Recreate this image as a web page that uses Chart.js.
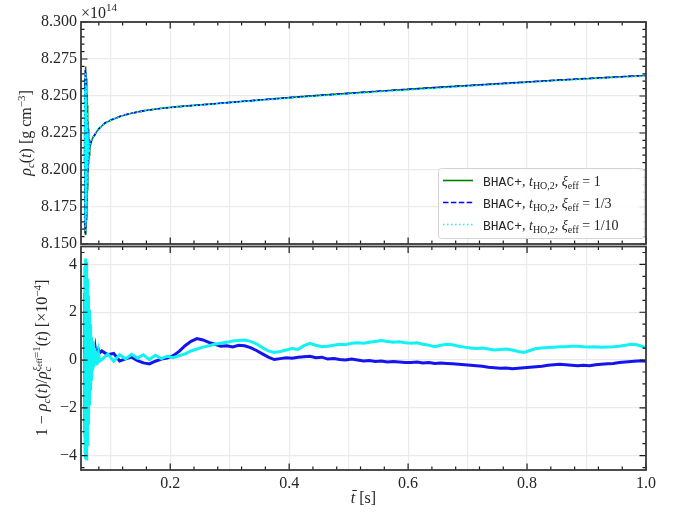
<!DOCTYPE html>
<html><head><meta charset="utf-8">
<script src="https://cdn.jsdelivr.net/npm/chart.js@4.4.0/dist/chart.umd.min.js"></script>
<style>
html,body{margin:0;padding:0;background:#fff;}
#wrap{position:relative;width:680px;height:512px;overflow:hidden;}
canvas{position:absolute;left:0;}
#c1{top:0;}
#c2{top:245px;}
</style></head><body>
<div id="wrap">
<canvas id="c1" width="680" height="262"></canvas>
<canvas id="c2" width="680" height="267"></canvas>
</div>
<script>
// ---------------- DATA ----------------
const tTop = [
0.0560,0.0564,0.0568,0.0572,0.0576,0.0580,0.0584,0.0588,0.0592,0.0596,
0.0600,0.0604,0.0608,0.0612,0.0616,0.0620,0.0626,0.0632,0.0638,0.0646,
0.0656,0.0670,0.0690,0.0710,0.0732,0.0760,0.0800,0.0840,0.0900,0.1010,
0.1180,0.1345,0.1570,0.1850,0.2125,0.2400,0.2680,0.3070,0.3500,0.4000,
0.4500,0.5000,0.5500,0.6000,0.6500,0.7000,0.7500,0.8000,0.8500,0.9000,
0.9500,1.0000];
const rhoXi1 = [
8.210,8.262,8.158,8.270,8.156,8.268,8.160,8.262,8.166,8.254,
8.176,8.244,8.186,8.236,8.196,8.228,8.204,8.222,8.210,8.218,
8.2165,8.2190,8.2210,8.2225,8.2237,8.2256,8.2278,8.2294,8.2316,8.2338,
8.2365,8.2383,8.2401,8.2417,8.2428,8.2437,8.2446,8.2459,8.2473,8.2489,
8.2504,8.2518,8.2532,8.2545,8.2558,8.2570,8.2582,8.2594,8.2606,8.2617,
8.2628,8.2639];
const rhoXi3 = [
8.205,8.258,8.162,8.268,8.157,8.266,8.161,8.259,8.168,8.251,
8.179,8.241,8.189,8.233,8.199,8.226,8.206,8.221,8.211,8.2175,
8.2168,8.2192,8.2212,8.2226,8.2238,8.2257,8.2279,8.2295,8.2317,8.2339,
8.2366,8.2383,8.2401,8.2416,8.2427,8.2436,8.2445,8.2458,8.2473,8.2489,
8.2504,8.2518,8.2532,8.2545,8.2558,8.2570,8.2583,8.2595,8.2607,8.2618,
8.2628,8.2639];
const rhoXi10 = [
8.200,8.255,8.164,8.266,8.158,8.265,8.163,8.257,8.170,8.249,
8.181,8.239,8.191,8.231,8.201,8.225,8.207,8.220,8.212,8.2172,
8.2170,8.2193,8.2213,8.2227,8.2238,8.2256,8.2278,8.2294,8.2316,8.2338,
8.2364,8.2382,8.2400,8.2416,8.2427,8.2435,8.2444,8.2456,8.2470,8.2486,
8.2500,8.2514,8.2527,8.2540,8.2553,8.2566,8.2578,8.2591,8.2603,8.2613,
8.2624,8.2635];

const tDiff = [
0.0560,0.0564,0.0568,0.0572,0.0576,0.0580,0.0584,0.0588,0.0592,0.0596,
0.0600,0.0604,0.0608,0.0612,0.0616,0.0620,0.0624,0.0628,0.0632,0.0636,
0.0640,0.0644,0.0648,0.0652,0.0656,0.0660,0.0664,0.0668,0.0672,0.0676,
0.0680,0.0688,0.0696,0.0704,0.0712,0.0720,0.0732,0.0744,0.0756,0.0768,
0.0780,0.0795,0.0810,
0.085,0.095,0.105,0.115,0.125,0.135,0.145,0.155,0.165,0.175,
0.185,0.195,0.205,0.215,0.225,0.235,0.245,0.255,0.265,0.275,
0.285,0.295,0.305,0.315,0.325,0.335,0.345,0.355,0.365,0.375,
0.385,0.395,0.405,0.415,0.425,0.435,0.445,0.455,0.465,0.475,
0.485,0.495,0.505,0.515,0.525,0.535,0.545,0.555,0.565,0.575,
0.585,0.595,0.605,0.615,0.625,0.635,0.645,0.655,0.665,0.675,
0.685,0.695,0.705,0.715,0.725,0.735,0.745,0.755,0.765,0.775,
0.785,0.795,0.805,0.815,0.825,0.835,0.845,0.855,0.865,0.875,
0.885,0.895,0.905,0.915,0.925,0.935,0.945,0.955,0.965,0.975,
0.985,0.995,1.000];
const diffXi3 = [
0.3,2.8,-3.0,3.2,-3.4,3.0,-3.2,2.8,-2.9,2.5,
-2.6,2.2,-2.2,1.9,-1.9,1.6,-1.6,1.4,-1.3,1.2,
-1.0,1.0,-0.8,0.9,-0.6,0.8,-0.4,0.7,-0.3,0.6,
-0.2,0.55,-0.1,0.5,0.0,0.45,0.1,0.42,0.2,0.4,
0.25,0.42,0.3,
0.38,0.22,0.28,-0.04,0.05,0.12,-0.02,-0.12,-0.16,-0.05,
0.04,0.08,0.18,0.36,0.60,0.78,0.90,0.84,0.74,0.66,
0.58,0.60,0.55,0.62,0.60,0.52,0.40,0.26,0.12,0.02,
0.06,0.10,0.08,0.12,0.14,0.16,0.10,0.12,0.04,0.06,
0.02,0.00,0.04,0.00,-0.04,-0.02,-0.06,-0.04,-0.08,-0.06,
-0.08,-0.10,-0.10,-0.08,-0.12,-0.10,-0.14,-0.12,-0.14,-0.16,
-0.18,-0.20,-0.22,-0.24,-0.26,-0.30,-0.32,-0.34,-0.33,-0.36,
-0.34,-0.32,-0.30,-0.28,-0.26,-0.22,-0.20,-0.18,-0.20,-0.22,
-0.24,-0.22,-0.24,-0.20,-0.18,-0.16,-0.14,-0.10,-0.08,-0.06,
-0.04,-0.04,-0.05];
const diffXi10 = [
0.5,3.9,-3.8,4.25,-4.0,4.2,-4.15,4.1,-4.2,3.8,
-4.0,3.4,-3.6,3.0,-3.1,2.7,-2.7,2.4,-2.3,2.1,
-1.9,1.8,-1.6,1.5,-1.3,1.3,-1.0,1.1,-0.8,0.95,
-0.6,0.8,-0.45,0.65,-0.3,0.5,-0.2,0.4,-0.15,0.3,
-0.1,0.25,-0.05,
0.02,0.25,-0.05,0.22,0.05,0.24,0.08,0.22,0.02,0.20,
0.06,0.16,0.10,0.18,0.26,0.38,0.46,0.54,0.60,0.66,
0.70,0.74,0.80,0.82,0.84,0.78,0.68,0.52,0.38,0.32,
0.36,0.42,0.48,0.44,0.60,0.70,0.62,0.56,0.58,0.62,
0.66,0.64,0.70,0.72,0.70,0.74,0.78,0.82,0.78,0.74,
0.76,0.72,0.70,0.72,0.66,0.62,0.56,0.62,0.66,0.64,
0.58,0.54,0.50,0.48,0.50,0.46,0.42,0.44,0.46,0.42,
0.36,0.32,0.40,0.48,0.50,0.52,0.54,0.56,0.56,0.58,
0.58,0.56,0.55,0.56,0.54,0.55,0.56,0.58,0.62,0.66,
0.64,0.56,0.50];

const xGridTicks = [0.1,0.2,0.3,0.4,0.5,0.6,0.7,0.8,0.9,1.0];
const xLabelTicks = [0.2,0.4,0.6,0.8,1.0];
const xMinorTicks = [0.08,0.12,0.16,0.24,0.28,0.32,0.36,0.44,0.48,0.52,0.56,0.64,0.68,0.72,0.76,0.84,0.88,0.92,0.96];
const rhoTicks = [8.150,8.175,8.200,8.225,8.250,8.275,8.300];
const diffTicks = [-4,-2,0,2,4];
const legendValues = ['1','1/3','1/10'];

// ---------------- HELPERS ----------------
const SERIF = '"Liberation Serif"';
const F = (size, style) => (style ? style + ' ' : '') + size + 'px ' + SERIF;
const TXT = '#262626';

function segWidth(ctx, s) {
  if (s.pair) return Math.max(listWidth(ctx, s.pair[0]), listWidth(ctx, s.pair[1]));
  ctx.font = s.f; return ctx.measureText(s.t).width;
}
function listWidth(ctx, segs) { let w = 0; for (const s of segs) w += segWidth(ctx, s); return w; }
function drawList(ctx, segs, x0) {
  let cx = x0;
  for (const s of segs) {
    if (s.pair) { drawList(ctx, s.pair[0], cx); drawList(ctx, s.pair[1], cx); cx += segWidth(ctx, s); continue; }
    ctx.font = s.f; ctx.fillStyle = TXT;
    ctx.fillText(s.t, cx, s.dy || 0);
    const w = ctx.measureText(s.t).width;
    if (s.bar) { ctx.fillRect(cx + 1.5, -13, w, 1); }
    cx += w;
  }
}
function drawRich(ctx, segs, x, y, rot, align) {
  ctx.save(); ctx.translate(x, y); if (rot) ctx.rotate(rot);
  ctx.textBaseline = 'alphabetic'; ctx.textAlign = 'left';
  const w = listWidth(ctx, segs);
  drawList(ctx, segs, align === 'left' ? 0 : -w / 2);
  ctx.restore();
}

function frameTicks(chart, cfg) {
  const ctx = chart.ctx, a = chart.chartArea, xs = chart.scales.x, ys = chart.scales.y;
  ctx.save();
  ctx.strokeStyle = '#1a1a1a'; ctx.lineWidth = 1.2;
  ctx.beginPath();
  const xt = (v, len) => { const p = xs.getPixelForValue(v);
    ctx.moveTo(p, a.bottom); ctx.lineTo(p, a.bottom - len);
    ctx.moveTo(p, a.top); ctx.lineTo(p, a.top + len); };
  const yt = (v, len) => { const p = ys.getPixelForValue(v);
    ctx.moveTo(a.left, p); ctx.lineTo(a.left + len, p);
    ctx.moveTo(a.right, p); ctx.lineTo(a.right - len, p); };
  xLabelTicks.forEach(v => xt(v, 6.5));
  xMinorTicks.forEach(v => xt(v, 3.5));
  cfg.yTicks.forEach(v => yt(v, 6.5));
  const yMinor = [];
  for (let v = cfg.yMinorStart; v <= cfg.ymax + 1e-9; v += cfg.yMinorStep) yMinor.push(v);
  yMinor.forEach(v => { if (v >= cfg.ymin - 1e-9) yt(v, 3.5); });
  ctx.stroke();
  ctx.strokeStyle = '#3a3a3a'; ctx.lineWidth = 1.8;
  ctx.strokeRect(a.left, a.top, a.right - a.left, a.bottom - a.top);
  ctx.restore();
}

function makeOptions(cfg) {
  return {
    responsive: false, animation: false, devicePixelRatio: 1,
    layout: { padding: cfg.padding },
    plugins: { legend: { display: false }, tooltip: { enabled: false } },
    elements: { point: { radius: 0 }, line: { tension: 0 } },
    scales: {
      x: {
        type: 'linear', min: 0.05, max: 1.0,
        afterBuildTicks: s => { s.ticks = xGridTicks.map(v => ({ value: v })); },
        afterFit: s => { s.height = cfg.xHeight; s.paddingLeft = 0; s.paddingRight = 0; },
        grid: { color: '#ebebeb', lineWidth: 1.2, drawTicks: false },
        border: { display: false },
        ticks: { display: cfg.xLabels, padding: 4, autoSkip: false, maxRotation: 0,
          font: { family: 'Liberation Serif', size: 16 }, color: TXT,
          callback: v => xLabelTicks.some(l => Math.abs(l - v) < 1e-9) ? v.toFixed(1) : '' }
      },
      y: {
        type: 'linear', min: cfg.ymin, max: cfg.ymax,
        afterBuildTicks: s => { s.ticks = cfg.yTicks.map(v => ({ value: v })); },
        afterFit: s => { s.width = 81; s.paddingTop = 0; s.paddingBottom = 0; },
        grid: { color: '#ebebeb', lineWidth: 1.2, drawTicks: false },
        border: { display: false },
        ticks: { padding: 4, autoSkip: false,
          font: { family: 'Liberation Serif', size: 16 }, color: TXT,
          callback: cfg.yFmt }
      }
    }
  };
}

// ---------------- TOP CHART ----------------
const topCfg = { padding: { top: 22, right: 34, left: 0, bottom: 0 }, xHeight: 18, xLabels: false,
  ymin: 8.150, ymax: 8.300, yTicks: rhoTicks, yMinorStart: 8.150, yMinorStep: 0.005,
  yFmt: v => v.toFixed(3) };
const topDatasets = [
  { label: 'xi1', data: tTop.map((t, i) => ({ x: t, y: rhoXi1[i] })), borderColor: '#008000', borderWidth: 1.6, order: 3 },
  { label: 'xi3', data: tTop.map((t, i) => ({ x: t, y: rhoXi3[i] })), borderColor: '#0000ff', borderWidth: 1.6, borderDash: [5.5, 2.4], order: 2 },
  { label: 'xi10', data: tTop.map((t, i) => ({ x: t, y: rhoXi10[i] })), borderColor: '#00ffff', borderWidth: 1.6, borderDash: [1.5, 2.5], order: 1 }
];
const topPlugin = { id: 'topDecor', afterDraw(chart) {
  frameTicks(chart, topCfg);
  const ctx = chart.ctx;
  drawRich(ctx, [{ t: '×10', f: F(16) }, { t: '14', f: F(11), dy: -7 }], 81, 18, 0, 'left');
  drawRich(ctx, [{ t: 'ρ', f: F(16, 'italic') }, { t: 'c', f: F(11, 'italic'), dy: 3 }, { t: '(', f: F(16) },
    { t: 't', f: F(16, 'italic') }, { t: ') [g cm', f: F(16) }, { t: '−3', f: F(11), dy: -6 }, { t: ']', f: F(16) }],
    31, 133, -Math.PI / 2);
  ctx.save();
  ctx.beginPath(); ctx.roundRect(438.5, 168.5, 206, 70, 3);
  ctx.fillStyle = 'rgba(255,255,255,0.85)'; ctx.fill();
  ctx.strokeStyle = '#d4d4d4'; ctx.lineWidth = 1; ctx.stroke();
  const rows = [180.5, 202.5, 224.5];
  chart.data.datasets.forEach((ds, i) => {
    const y = rows[i];
    ctx.beginPath(); ctx.setLineDash(ds.borderDash || []);
    ctx.strokeStyle = ds.borderColor; ctx.lineWidth = 1.6;
    ctx.moveTo(443, y); ctx.lineTo(473, y); ctx.stroke();
    ctx.setLineDash([]);
    drawRich(ctx, [{ t: 'BHAC+', f: '13px "Liberation Mono"' }, { t: ', ', f: F(14) }, { t: 't', f: F(14, 'italic') },
      { t: 'HO,2', f: F(10), dy: 3 }, { t: ', ', f: F(14) }, { t: 'ξ', f: F(14, 'italic') }, { t: 'eff', f: F(10), dy: 3 },
      { t: ' = ' + legendValues[i], f: F(14) }], 483, y + 5, 0, 'left');
  });
  ctx.restore();
} };
new Chart(document.getElementById('c1'), { type: 'line', data: { datasets: topDatasets },
  options: makeOptions(topCfg), plugins: [topPlugin] });

// ---------------- BOTTOM CHART ----------------
const botCfg = { padding: { top: 1.5, right: 34, left: 0, bottom: 0 }, xHeight: 42, xLabels: true,
  ymin: -4.6, ymax: 4.75, yTicks: diffTicks, yMinorStart: -4.5, yMinorStep: 0.5,
  yFmt: v => v < 0 ? '\u2212' + Math.abs(v) : String(v) };
const botDatasets = [
  { label: 'xi3', data: tDiff.map((t, i) => ({ x: t, y: diffXi3[i] })), borderColor: '#1414ee', borderWidth: 3, order: 2 },
  { label: 'xi10', data: tDiff.map((t, i) => ({ x: t, y: diffXi10[i] })), borderColor: '#11f2f2', borderWidth: 3, order: 1 }
];
const botPlugin = { id: 'botDecor', afterDraw(chart) {
  frameTicks(chart, botCfg);
  const ctx = chart.ctx;
  drawRich(ctx, [{ t: '1 − ', f: F(16) }, { t: 'ρ', f: F(16, 'italic') }, { t: 'c', f: F(11, 'italic'), dy: 3 },
    { t: '(', f: F(16) }, { t: 't', f: F(16, 'italic') }, { t: ')/', f: F(16) }, { t: 'ρ', f: F(16, 'italic') },
    { pair: [[{ t: 'c', f: F(11, 'italic'), dy: 4 }],
             [{ t: 'ξ', f: F(11, 'italic'), dy: -7 }, { t: 'eff', f: F(8), dy: -5 }, { t: '=1', f: F(11), dy: -7 }]] },
    { t: '(', f: F(16) }, { t: 't', f: F(16, 'italic') }, { t: ') [×10', f: F(16) }, { t: '−4', f: F(11), dy: -6 },
    { t: ']', f: F(16) }], 47, 358 - 245, -Math.PI / 2);
  drawRich(ctx, [{ t: 't', f: F(16, 'italic'), bar: true }, { t: ' [s]', f: F(16) }], 363.5, 503 - 245, 0);
} };
new Chart(document.getElementById('c2'), { type: 'line', data: { datasets: botDatasets },
  options: makeOptions(botCfg), plugins: [botPlugin] });
</script>
</body></html>
